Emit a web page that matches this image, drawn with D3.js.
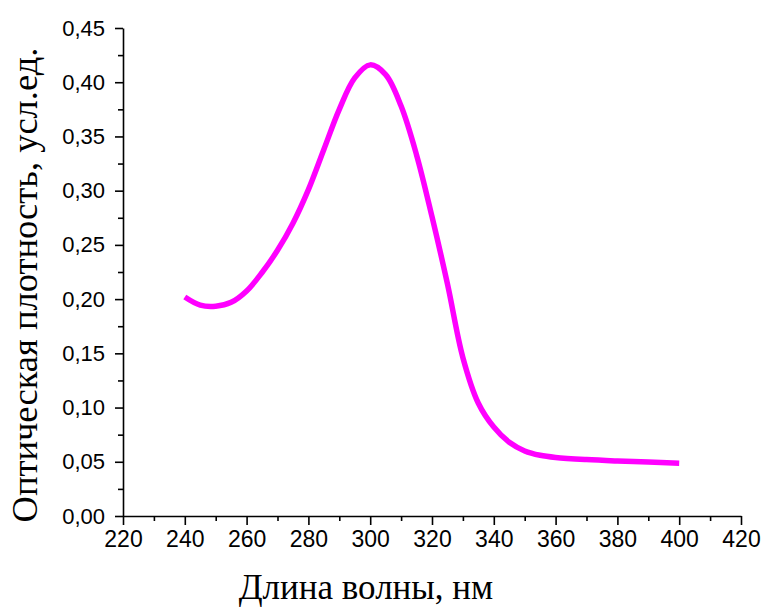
<!DOCTYPE html>
<html>
<head>
<meta charset="utf-8">
<script src="https://cdn.jsdelivr.net/npm/d3@7"></script>
<style>
  html, body { margin: 0; padding: 0; background: #fff; }
  svg { display: block; }
</style>
</head>
<body>
<svg id="chart" width="766" height="613"></svg>
<script>
const wavelength = [240, 245, 250, 255, 260, 265, 270, 275, 280, 285, 290, 295, 300, 305, 310, 315, 320, 325, 330, 335, 340, 345, 350, 355, 360, 370, 380, 390, 400];
const absorbance = [0.202, 0.1945, 0.1935, 0.197, 0.2075, 0.2245, 0.245, 0.270, 0.301, 0.338, 0.375, 0.404, 0.416, 0.407, 0.378, 0.333, 0.276, 0.214, 0.146, 0.104, 0.082, 0.068, 0.060, 0.056, 0.054, 0.052, 0.0507, 0.0497, 0.0486];
const xTicks = [220, 240, 260, 280, 300, 320, 340, 360, 380, 400, 420];
const yTicks = [0, 0.05, 0.10, 0.15, 0.20, 0.25, 0.30, 0.35, 0.40, 0.45];
const xTitle = "Длина волны, нм";
const yTitle = "Оптическая плотность, усл.ед.";

const svg = d3.select("#chart");
const x = d3.scaleLinear().domain([220, 420]).range([123, 741]);
const y = d3.scaleLinear().domain([0, 0.45]).range([516, 28]);

const fmtY = v => d3.format(".2f")(v).replace(".", ",");

const xMinor = d3.range(230, 420, 20);
const yMinor = d3.range(0.025, 0.45, 0.05);

svg.append("g").attr("transform", "translate(0,516)")
  .call(d3.axisBottom(x).tickValues(xMinor).tickSize(5).tickFormat(""))
  .call(g => g.select(".domain").remove());
svg.append("g").attr("transform", "translate(123,0)")
  .call(d3.axisLeft(y).tickValues(yMinor).tickSize(5).tickFormat(""))
  .call(g => g.select(".domain").remove());

const xAxis = svg.append("g").attr("transform", "translate(0,516)")
  .call(d3.axisBottom(x).tickValues(xTicks).tickSize(9).tickSizeOuter(0).tickPadding(6).tickFormat(d3.format("d")));
xAxis.selectAll("text").attr("font-family", "Liberation Sans, Arial, sans-serif").attr("font-size", 23).attr("fill", "#000");

const yAxis = svg.append("g").attr("transform", "translate(123,0)")
  .call(d3.axisLeft(y).tickValues(yTicks).tickSize(8).tickSizeOuter(0).tickPadding(10).tickFormat(fmtY));
yAxis.selectAll("text").attr("font-family", "Liberation Sans, Arial, sans-serif").attr("font-size", 22).attr("fill", "#000");

svg.selectAll(".domain, .tick line").attr("stroke", "#000").attr("stroke-width", 1.6);

const data = wavelength.map((w, i) => [w, absorbance[i]]);
svg.append("path")
  .datum(data)
  .attr("fill", "none")
  .attr("stroke", "#ff00ff")
  .attr("stroke-width", 5.5)
  .attr("d", d3.line().x(d => x(d[0])).y(d => y(d[1])).curve(d3.curveCatmullRom.alpha(0.5)));

svg.append("text")
  .attr("x", 366).attr("y", 599)
  .attr("text-anchor", "middle")
  .attr("font-family", "Liberation Serif, Times New Roman, serif")
  .attr("font-size", 35)
  .attr("fill", "#000")
  .text(xTitle);

svg.append("text")
  .attr("transform", "translate(37,285) rotate(-90)")
  .attr("text-anchor", "middle")
  .attr("font-family", "Liberation Serif, Times New Roman, serif")
  .attr("font-size", 36.5)
  .attr("fill", "#000")
  .text(yTitle);
</script>
</body>
</html>
